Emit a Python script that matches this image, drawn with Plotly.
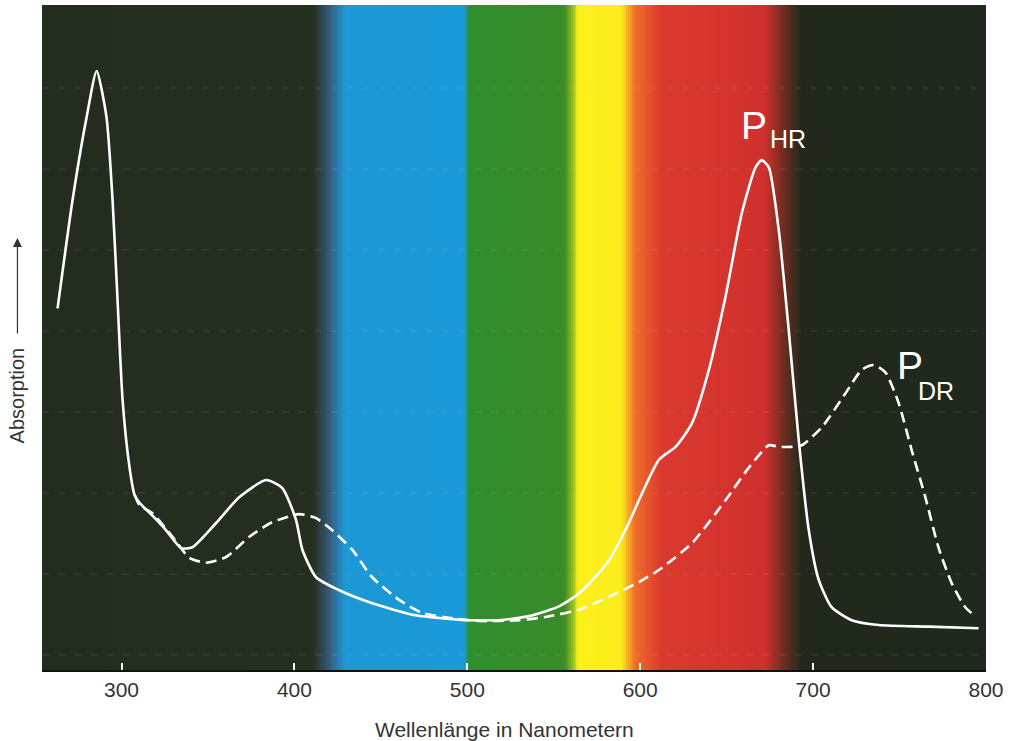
import numpy as np
import plotly.graph_objects as go

# ---- data ----
# P_HR (solid): wavelength [nm], absorption [arb. units]
hr_nm = [263.0, 271.7, 279.8, 285.6, 291.3, 294.8, 297.7, 300.6, 304.6, 307.5, 310.4, 317.9,
         325.8, 334.5, 341.0, 354.7, 368.2, 383.6, 393.0, 400.9, 404.6, 412.5, 425.9, 445.0,
         470.2, 499.1, 506.8, 518.4, 535.7, 553.0, 564.6, 572.1, 582.0, 591.6, 610.8, 620.4,
         629.9, 639.7, 649.3, 658.8, 666.7, 670.3, 674.4, 680.1, 685.9, 691.7, 697.5, 703.2,
         710.7, 722.3, 737.9, 766.8, 795.7]
hr_abs = [4.28, 5.62, 6.64, 7.21, 6.64, 5.62, 4.38, 3.15, 2.32, 1.98, 1.88, 1.72,
          1.54, 1.32, 1.33, 1.63, 1.95, 2.16, 2.06, 1.67, 1.30, 0.96, 0.80, 0.64,
          0.49, 0.43, 0.43, 0.43, 0.48, 0.60, 0.76, 0.92, 1.17, 1.55, 2.41, 2.57,
          2.86, 3.52, 4.42, 5.46, 6.02, 6.11, 6.02, 5.25, 4.01, 2.65, 1.54, 0.93,
          0.59, 0.43, 0.37, 0.35, 0.33]

# P_DR (dashed)
dr_nm = [307.5, 310.4, 317.9, 329.5, 339.3, 348.9, 360.5, 373.9, 387.2, 402.8, 412.5, 421.9,
         433.4, 445.0, 460.6, 473.9, 489.5, 506.8, 529.9, 545.3, 564.6, 582.0, 599.2, 610.8,
         629.9, 649.3, 662.7, 674.4, 680.1, 687.6, 693.4, 705.0, 718.7, 728.1, 735.0, 741.8,
         749.5, 757.0, 764.9, 772.5, 780.1, 788.0, 794.5]
dr_abs = [1.98, 1.85, 1.75, 1.46, 1.20, 1.14, 1.21, 1.46, 1.64, 1.74, 1.69, 1.54,
          1.30, 0.96, 0.68, 0.52, 0.46, 0.42, 0.43, 0.47, 0.56, 0.72, 0.90, 1.05,
          1.38, 1.91, 2.31, 2.59, 2.57, 2.57, 2.59, 2.81, 3.23, 3.52, 3.58, 3.49,
          3.11, 2.53, 1.95, 1.33, 0.89, 0.59, 0.47]

x_ticks = [300, 400, 500, 600, 700, 800]
x_range = [254, 800]
y_range = [-0.185, 8.025]
grid_levels = [0, 1, 2, 3, 4, 5, 6, 7]

# spectrum background: wavelength stops and colours
band_nm = [254, 411, 421, 429, 498, 501, 556, 561, 564, 589, 597, 612, 672, 683, 693, 800]
band_colors = ["rgb(35,45,30)", "rgb(37,47,31)", "rgb(55,95,130)", "rgb(28,152,214)",
               "rgb(26,154,216)", "rgb(48,142,48)", "rgb(58,138,40)", "rgb(150,190,30)",
               "rgb(252,240,25)", "rgb(252,236,30)", "rgb(240,110,40)", "rgb(218,58,46)",
               "rgb(208,48,45)", "rgb(110,45,32)", "rgb(33,41,28)", "rgb(31,41,29)"]

# ---- figure ----
span = band_nm[-1] - band_nm[0]
colorscale = [[(w - band_nm[0]) / span, c] for w, c in zip(band_nm, band_colors)]
edges = np.arange(x_range[0], x_range[1] + 1, 1.0)
centers = (edges[:-1] + edges[1:]) / 2

fig = go.Figure()
fig.add_trace(go.Heatmap(
    x=edges, y=[y_range[0] - 0.2, y_range[1] + 0.2], z=[centers],
    zmin=band_nm[0], zmax=band_nm[-1], colorscale=colorscale,
    showscale=False, hoverinfo="skip"))

gx, gy = [], []
for g in grid_levels:
    gx += [x_range[0], x_range[1], None]
    gy += [g, g, None]
fig.add_trace(go.Scatter(x=gx, y=gy, mode="lines", hoverinfo="skip",
                         line=dict(color="rgba(235,235,220,0.13)", width=1, dash="7px,9px"),
                         showlegend=False))

fig.add_trace(go.Scatter(x=dr_nm, y=dr_abs, mode="lines", name="P_DR",
                         line=dict(color="white", width=2.6, dash="11px,6px",
                                   shape="spline", smoothing=0.6),
                         showlegend=False))
fig.add_trace(go.Scatter(x=hr_nm, y=hr_abs, mode="lines", name="P_HR",
                         line=dict(color="white", width=2.6, shape="spline", smoothing=0.6),
                         showlegend=False))

label_font = "Liberation Sans, Arial, sans-serif"
anns = [
    dict(x=665.7, y=6.54, text="P", font=dict(size=39, color="white", family=label_font)),
    dict(x=685.2, y=6.37, text="HR", font=dict(size=25, color="white", family=label_font)),
    dict(x=755.8, y=3.57, text="P", font=dict(size=39, color="white", family=label_font)),
    dict(x=771.0, y=3.26, text="DR", font=dict(size=25, color="white", family=label_font)),
]
for a in anns:
    fig.add_annotation(xref="x", yref="y", showarrow=False, **a)

fig.add_annotation(xref="paper", yref="paper", x=0.49, y=-0.09, yanchor="middle",
                   text="Wellenlänge in Nanometern", showarrow=False,
                   font=dict(size=21, color="#333", family=label_font))
fig.add_annotation(xref="paper", yref="paper", x=-0.026, y=(670 - 395) / 665,
                   xanchor="center", yanchor="middle",
                   text="Absorption", textangle=-90, showarrow=False,
                   font=dict(size=20, color="#333", family=label_font))
fig.add_annotation(xref="paper", yref="paper", x=-0.026, y=(670 - 238) / 665,
                   ax=0, ay=97, axref="pixel", ayref="pixel", text="", showarrow=True,
                   arrowhead=2, arrowsize=1.5, arrowwidth=1.2, arrowcolor="#333")

fig.update_xaxes(range=x_range, tickvals=x_ticks, ticks="inside", ticklen=7,
                 tickwidth=2, tickcolor="white", showgrid=False, zeroline=False,
                 showline=True, linecolor="#111", linewidth=2,
                 tickfont=dict(size=21, color="#333", family=label_font))
fig.update_yaxes(range=y_range, showticklabels=False, showgrid=False, zeroline=False,
                 ticks="")
fig.update_layout(width=1011, height=741, margin=dict(l=42, r=25, t=5, b=71),
                  paper_bgcolor="white", plot_bgcolor="rgb(35,45,30)")

fig.write_html("out.html", config={"displayModeBar": False},
               post_script="document.body.style.margin='0px';document.body.style.padding='0px';")
